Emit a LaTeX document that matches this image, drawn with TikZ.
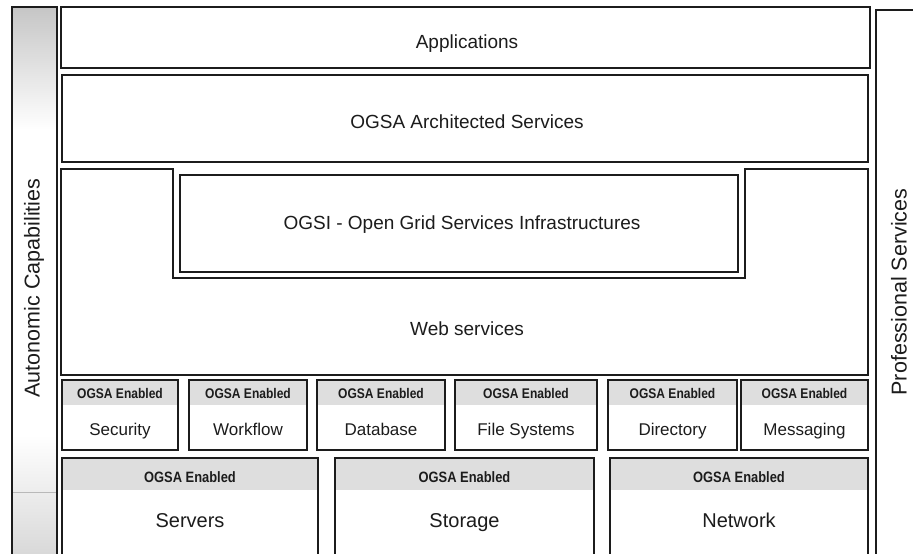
\documentclass[tikz,border=0pt]{standalone}
\usepackage{fontspec}
\setmainfont{Liberation Sans}
\newfontfamily\tagfont{Liberation Sans}[FakeStretch=0.86]
\usetikzlibrary{fit,calc}

\definecolor{ink}{HTML}{1C1C1C}
\definecolor{hdrgray}{HTML}{DEDEDE}

\tikzset{
  frame/.style={draw=ink, line width=1.5pt},
  layerbox/.style={frame, inner sep=0pt},
  maintxt/.style={anchor=base, inner sep=0pt, text=ink, font=\fontsize{19}{22}\selectfont},
  smalltxt/.style={anchor=base, inner sep=0pt, text=ink, font=\fontsize{17}{20}\selectfont},
  bigtxt/.style={anchor=base, inner sep=0pt, text=ink, font=\fontsize{20}{23}\selectfont},
  tagtxt/.style={anchor=base, inner sep=0pt, text=ink, font=\tagfont\bfseries\fontsize{14}{16}\selectfont},
  sidetxt/.style={anchor=center, inner sep=0pt, text=ink, rotate=90, font=\fontsize{21.5}{24}\selectfont},
  hdr/.style={fill=hdrgray},
}

\begin{document}
\begin{tikzpicture}[x=1pt, y=-1pt]
  \useasboundingbox (0,0) rectangle (913,554);
  \clip (0,0) rectangle (913,554);
  \fill[white] (0,0) rectangle (913,554);

  % side column: autonomic capabilities
  \shade[top color=gray!45, bottom color=white] (12,7) rectangle (57,130);
  \shade[top color=white, bottom color=gray!30] (12,435) rectangle (57,554);
  \draw[gray!55, line width=0.8pt] (12,492) -- (57,492);
  \node[layerbox, fit={(12,7) (57,600)}] (auto) {};
  \node[sidetxt] (autoL) at (34,288) {Autonomic Capabilities};

  % side column: professional services
  \node[layerbox, fit={(876,10) (960,600)}] (prof) {};
  \node[sidetxt] (profL) at (899,292) {Professional Services};

  % applications
  \node[layerbox, fit={(61,7) (870,68)}] (app) {};
  \node[maintxt] (appL) at (467,48) {Applications};

  % architected services
  \node[layerbox, fit={(62,75) (868,162)}] (arch) {};
  \node[maintxt] (archL) at (467,128) {OGSA Architected Services};

  % web services layer with a notch holding OGSI
  \draw[frame] (61,169) -- (173,169) -- (173,278) -- (745,278) -- (745,169)
               -- (868,169) -- (868,375) -- (61,375) -- cycle;
  \coordinate (web) at (465,330);
  \node[maintxt] (webL) at (467,335) {Web services};

  \node[layerbox, fit={(180,175) (738,272)}] (ogsi) {};
  \node[maintxt] (ogsiL) at (462,229) {OGSI - Open Grid Services Infrastructures};

  % OGSA enabled resources, small row
  \foreach \nm/\xa/\xb/\txt in {sec/62/178/Security, wf/189/307/Workflow,
      db/317/445/Database, fs/455/597/File Systems,
      dir/608/737/Directory, msg/741/868/Messaging}{
    \fill[hdr] (\xa,380) rectangle (\xb,405);
    \node[layerbox, fit={(\xa,380) (\xb,450)}] (\nm) {};
    \node[tagtxt] (\nm-tag) at ($(\xa,398)!0.5!(\xb,398)$) {OGSA Enabled};
    \node[smalltxt] (\nm-lbl) at ($(\xa,435)!0.5!(\xb,435)$) {\txt};
  }

  % OGSA enabled resources, large row
  \foreach \nm/\xa/\xb/\txt in {srv/62/318/Servers, sto/335/594/Storage,
      net/610/868/Network}{
    \fill[hdr] (\xa,458) rectangle (\xb,490);
    \node[layerbox, fit={(\xa,458) (\xb,600)}] (\nm) {};
    \node[tagtxt, font=\tagfont\bfseries\fontsize{15}{17}\selectfont]
      (\nm-tag) at ($(\xa,482)!0.5!(\xb,482)$) {OGSA Enabled};
    \node[bigtxt] (\nm-lbl) at ($(\xa,527)!0.5!(\xb,527)$) {\txt};
  }
\end{tikzpicture}
\end{document}
